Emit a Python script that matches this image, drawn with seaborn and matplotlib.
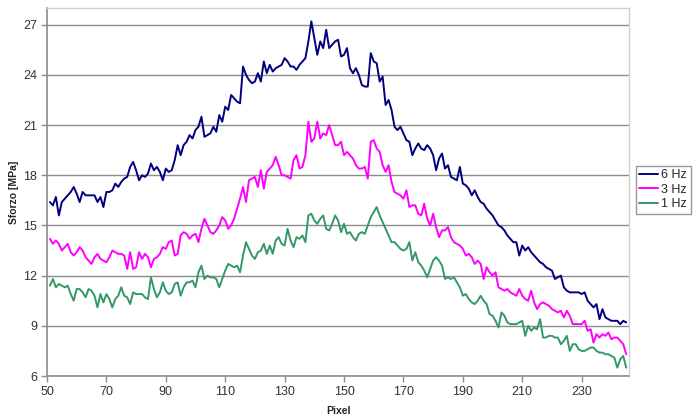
import numpy as np
import pandas as pd
import matplotlib
matplotlib.use('Agg')
import matplotlib.pyplot as plt
import seaborn as sns

# Pixel positions along the sample
pixel = list(range(51, 246))

# Stress values [MPa], one per pixel
sforzo_6hz = [
    16.4, 16.2, 16.7, 15.6, 16.4, 16.6, 16.8, 17.0, 17.3, 16.9,
    16.4, 17.0, 16.8, 16.8, 16.8, 16.8, 16.4, 16.7, 16.1, 17.0,
    17.0, 17.1, 17.5, 17.3, 17.6, 17.8, 17.9, 18.5, 18.8, 18.3,
    17.7, 18.0, 17.9, 18.1, 18.7, 18.3, 18.5, 18.2, 17.7, 18.4,
    18.2, 18.3, 18.9, 19.8, 19.2, 19.8, 20.0, 20.4, 20.2, 20.7,
    20.9, 21.5, 20.3, 20.4, 20.5, 20.9, 20.6, 21.6, 21.2, 22.1,
    21.9, 22.8, 22.6, 22.4, 22.3, 24.5, 24.0, 23.7, 23.5, 23.6,
    24.1, 23.6, 24.8, 24.1, 24.6, 24.2, 24.4, 24.5, 24.6, 25.0,
    24.8, 24.5, 24.5, 24.3, 24.6, 24.8, 25.0, 26.0, 27.2, 26.2,
    25.2, 26.0, 25.6, 26.7, 25.6, 25.8, 26.0, 26.1, 25.1, 25.2,
    25.6, 24.4, 24.1, 24.4, 24.0, 23.4, 23.3, 23.3, 25.3, 24.8,
    24.7, 23.6, 23.9, 22.2, 22.5, 21.9, 20.9, 20.7, 20.9, 20.5,
    20.1, 20.0, 19.2, 19.6, 19.9, 19.6, 19.5, 19.8, 19.6, 19.2,
    18.3, 19.0, 19.3, 18.4, 18.6, 17.9, 17.8, 17.7, 18.5, 17.5,
    17.4, 17.2, 16.8, 17.1, 16.7, 16.4, 16.3, 16.0, 15.8, 15.6,
    15.3, 15.0, 14.9, 14.7, 14.4, 14.2, 14.0, 14.0, 13.2, 13.8,
    13.5, 13.7, 13.4, 13.2, 13.0, 12.8, 12.7, 12.5, 12.4, 12.3,
    11.8, 11.9, 12.0, 11.3, 11.1, 11.0, 11.0, 11.0, 11.0, 10.9,
    11.0, 10.5, 10.3, 10.1, 10.3, 9.4, 10.0, 9.5, 9.4, 9.3,
    9.3, 9.3, 9.1, 9.3, 9.2,
]

sforzo_3hz = [
    14.2, 13.9, 14.1, 13.9, 13.5, 13.7, 13.9, 13.4, 13.2, 13.4,
    13.7, 13.5, 13.1, 12.9, 12.7, 13.1, 13.3, 13.0, 12.9, 12.8,
    13.1, 13.5, 13.4, 13.3, 13.3, 13.2, 12.4, 13.4, 12.4, 12.5,
    13.4, 13.0, 13.3, 13.1, 12.5, 13.0, 13.1, 13.3, 13.7, 13.6,
    14.0, 14.1, 13.2, 13.3, 14.4, 14.6, 14.5, 14.2, 14.4, 14.5,
    14.0, 14.8, 15.4, 15.0, 14.6, 14.5, 14.7, 15.0, 15.5, 15.3,
    14.8, 15.0, 15.4, 16.0, 16.6, 17.3, 16.4, 17.7, 17.8, 17.9,
    17.3, 18.3, 17.2, 18.2, 18.4, 18.6, 19.1, 18.6, 18.0, 18.0,
    17.9, 17.8, 18.9, 19.2, 18.4, 18.5, 19.2, 21.2, 20.0, 20.2,
    21.2, 20.2, 20.5, 20.4, 21.0, 20.4, 19.8, 19.8, 20.0, 19.2,
    19.4, 19.2, 19.0, 18.6, 18.4, 18.4, 18.5, 17.8, 20.0, 20.1,
    19.6, 19.4, 18.6, 18.2, 18.6, 17.6, 17.0, 16.9, 16.8, 16.6,
    17.1, 16.1, 16.2, 16.2, 15.7, 15.6, 16.3, 15.4, 15.0, 15.7,
    14.9, 14.3, 14.7, 14.7, 14.9, 14.3, 14.0, 13.9, 13.8, 13.6,
    13.2, 13.3, 13.1, 12.7, 12.9, 12.7, 11.8, 12.5, 12.2, 12.0,
    12.2, 11.3, 11.2, 11.1, 11.2, 11.0, 10.9, 10.8, 11.2, 10.8,
    10.6, 10.5, 11.1, 10.4, 10.0, 10.3, 10.4, 10.3, 10.2, 10.0,
    9.9, 9.8, 9.9, 9.5, 9.9, 9.6, 9.1, 9.1, 9.1, 9.1,
    9.3, 8.7, 8.8, 8.0, 8.5, 8.3, 8.5, 8.4, 8.6, 8.2,
    8.3, 8.3, 8.1, 7.9, 7.3,
]

sforzo_1hz = [
    11.4, 11.8, 11.3, 11.5, 11.4, 11.3, 11.4, 10.9, 10.5, 11.2,
    11.2, 11.0, 10.7, 11.2, 11.1, 10.8, 10.1, 10.9, 10.4, 10.9,
    10.6, 10.1, 10.6, 10.8, 11.3, 10.8, 10.7, 10.3, 11.0, 10.9,
    10.9, 10.9, 10.7, 10.6, 11.9, 11.2, 10.7, 11.0, 11.6, 11.1,
    10.9, 11.0, 11.5, 11.6, 10.8, 11.3, 11.6, 11.6, 11.7, 11.3,
    12.2, 12.6, 11.8, 12.0, 11.9, 11.9, 11.8, 11.3, 11.8, 12.3,
    12.7, 12.6, 12.5, 12.6, 12.2, 13.2, 14.0, 13.6, 13.2, 13.0,
    13.4, 13.5, 13.9, 13.3, 13.8, 13.3, 14.1, 14.3, 13.9, 13.8,
    14.8, 14.1, 13.7, 14.3, 14.2, 14.4, 14.0, 15.6, 15.7, 15.3,
    15.1, 15.4, 15.6, 14.8, 14.7, 15.1, 15.6, 15.3, 14.6, 15.1,
    14.5, 14.6, 14.3, 14.1, 14.5, 14.6, 14.5, 15.0, 15.5, 15.8,
    16.1, 15.6, 15.2, 14.8, 14.4, 14.0, 14.0, 13.8, 13.6, 13.5,
    13.6, 14.0, 12.9, 13.4, 12.8, 12.6, 12.3, 11.9, 12.4, 12.9,
    13.1, 12.9, 12.6, 11.8, 11.9, 11.8, 11.9, 11.6, 11.3, 10.8,
    10.9, 10.6, 10.4, 10.3, 10.5, 10.8, 10.5, 10.3, 9.7, 9.6,
    9.3, 8.9, 9.8, 9.6, 9.2, 9.1, 9.1, 9.1, 9.2, 9.3,
    8.4, 9.0, 8.7, 8.9, 8.8, 9.4, 8.3, 8.3, 8.4, 8.4,
    8.3, 8.3, 7.9, 8.1, 8.4, 7.5, 7.9, 7.9, 7.6, 7.5,
    7.5, 7.6, 7.7, 7.7, 7.5, 7.4, 7.4, 7.3, 7.3, 7.2,
    7.1, 6.5, 7.0, 7.2, 6.5,
]

series_names = ['6 Hz', '3 Hz', '1 Hz']
series_colors = ['#000080', '#ff00ff', '#339966']

df = pd.concat([
    pd.DataFrame({'Pixel': pixel, 'Sforzo': sforzo_6hz, 'Serie': '6 Hz'}),
    pd.DataFrame({'Pixel': pixel, 'Sforzo': sforzo_3hz, 'Serie': '3 Hz'}),
    pd.DataFrame({'Pixel': pixel, 'Sforzo': sforzo_1hz, 'Serie': '1 Hz'}),
], ignore_index=True)

sns.set_style('white')
plt.rcParams['font.family'] = ['Liberation Sans', 'DejaVu Sans']

fig = plt.figure(figsize=(6.96, 4.19), dpi=100)
ax = fig.add_axes([0.0675, 0.1026, 0.8365, 0.8784])

sns.lineplot(data=df, x='Pixel', y='Sforzo', hue='Serie', hue_order=series_names,
             palette=dict(zip(series_names, series_colors)), linewidth=1.4, ax=ax)

ax.set_xlim(50, 246)
ax.set_ylim(6, 28)
ax.set_xticks(range(50, 231, 20))
ax.set_yticks(range(6, 28, 3))
ax.yaxis.grid(True, color='#8c8c8c', linewidth=1.0)
ax.set_axisbelow(True)

for side in ['left', 'bottom']:
    ax.spines[side].set_color('#8c8c8c')
    ax.spines[side].set_linewidth(1.2)
for side in ['top', 'right']:
    ax.spines[side].set_color('#d0d0d0')
    ax.spines[side].set_linewidth(1.0)

ax.tick_params(axis='both', which='both', direction='out', length=4, width=1,
               color='#8c8c8c', labelsize=9, labelcolor='#333333', pad=3)
ax.tick_params(axis='x', bottom=True)
ax.tick_params(axis='y', left=True)

ax.set_xlabel('Pixel', fontsize=7.5, fontweight='bold', labelpad=6)
ax.set_ylabel('Sforzo [MPa]', fontsize=7.5, fontweight='bold', labelpad=3)

ax.legend(loc='center', bbox_to_anchor=(0.953, 0.547), bbox_transform=fig.transFigure,
          frameon=True, fancybox=False, edgecolor='#808080', fontsize=9,
          handlelength=1.5, handletextpad=0.25, borderpad=0.3, labelspacing=0.2,
          borderaxespad=0)
ax.get_legend().get_frame().set_linewidth(1.0)

fig.savefig('out.png', dpi=100)
